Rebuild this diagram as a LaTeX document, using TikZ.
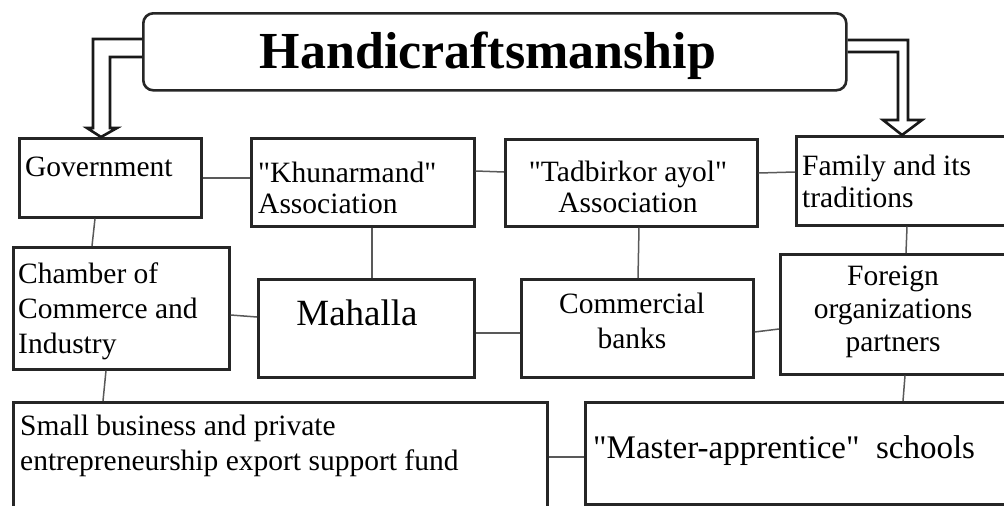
\documentclass[tikz,border=0pt]{standalone}
\usepackage{fontspec}
\setmainfont{Liberation Serif}[Ligatures=TeXOff]
\newcommand{\stackL}[1]{\begin{tabular}[t]{@{}l@{}}#1\end{tabular}}
\newcommand{\stackC}[1]{\begin{tabular}[t]{@{}c@{}}#1\end{tabular}}
\begin{document}
\begin{tikzpicture}[x=1pt,y=-1pt,
  box/.style={draw=black!85, line width=2.6pt, rectangle, inner sep=0pt, anchor=north west},
  link/.style={draw=black!65, line width=1.5pt},
  hollow/.style={draw=black!90, line width=2.6pt, line join=miter},
  txt/.style={inner sep=0pt, font=\fontsize{29.5}{33}\selectfont}]
\useasboundingbox (0,0) rectangle (1004,506);
\fill[white] (0,0) rectangle (1004,506);
\clip (0,0) rectangle (1004,506);

% boxes
\node[box, rounded corners=10pt, minimum width=703pt, minimum height=77pt] (title) at (142,12) {};
\node[box, minimum width=182pt, minimum height=79pt] (gov) at (18,137) {};
\node[box, minimum width=223pt, minimum height=88pt] (khu) at (250,137) {};
\node[box, minimum width=252pt, minimum height=87pt] (tad) at (504,138) {};
\node[box, minimum width=240pt, minimum height=89pt] (fam) at (795,135) {};
\node[box, minimum width=216pt, minimum height=122pt] (cham) at (12,246) {};
\node[box, minimum width=216pt, minimum height=98pt] (mah) at (257,278) {};
\node[box, minimum width=232pt, minimum height=98pt] (bank) at (520,278) {};
\node[box, minimum width=255pt, minimum height=120pt] (for) at (779,253) {};
\node[box, minimum width=534pt, minimum height=130pt] (small) at (12,401) {};
\node[box, minimum width=450pt, minimum height=102pt] (master) at (584,401) {};

% texts
\node[inner sep=0pt, anchor=base, font=\fontsize{52}{60}\selectfont\bfseries] (titlet) at (488,68) {Handicraftsmanship};
\node[txt, anchor=base west] (govt) at (25,176) {Government};
\node[txt, anchor=base west] (khut) at (258,182) {\fontsize{29.5}{31}\selectfont\stackL{"Khunarmand"\\Association}};
\node[txt, anchor=base] (tadt) at (628,181) {\fontsize{29.5}{31}\selectfont\stackC{"Tadbirkor ayol"\\Association}};
\node[txt, anchor=base west] (famt) at (802,175) {\fontsize{29.5}{32}\selectfont\stackL{Family and its\\traditions}};
\node[txt, anchor=base west] (chamt) at (18,283) {\fontsize{29.5}{35}\selectfont\stackL{Chamber of\\Commerce and\\Industry}};
\node[inner sep=0pt, anchor=base, font=\fontsize{37}{40}\selectfont] (maht) at (357,325) {Mahalla};
\node[txt, anchor=base] (bankt) at (632,313) {\fontsize{29.5}{35}\selectfont\stackC{Commercial\\banks}};
\node[txt, anchor=base] (fort) at (893,285) {\fontsize{29.5}{33}\selectfont\stackC{Foreign\\organizations\\partners}};
\node[txt, anchor=base west] (smallt) at (20,435) {\fontsize{29.5}{35}\selectfont\stackL{Small business and private\\entrepreneurship export support fund}};
\node[inner sep=0pt, anchor=base west, font=\fontsize{33}{38}\selectfont] (mastert) at (593,458) {"Master-apprentice"\ \ schools};

% hollow arrows
\draw[hollow] (title.west |- 0,39) -- (93,39) -- (93,128) -- (87,128) -- (gov.north -| 101,0) -- (117,128) -- (110,128) -- (110,57) -- (title.west |- 0,57);
\draw[hollow] (title.east |- 0,40) -- (908,40) -- (908,120) -- (922,120) -- (fam.north -| 902,0) -- (883,120) -- (898,120) -- (898,52) -- (title.east |- 0,52);

% connectors
\draw[link] (gov.east |- 0,178) -- (khu.west |- 0,178);
\draw[link] (khu.east |- 0,171) -- (tad.west |- 0,172);
\draw[link] (tad.east |- 0,173) -- (fam.west |- 0,172);
\draw[link] (gov.south -| 95,0) -- (cham.north -| 92,0);
\draw[link] (khu.south -| 372,0) -- (mah.north -| 372,0);
\draw[link] (tad.south -| 639,0) -- (bank.north -| 638,0);
\draw[link] (fam.south -| 907,0) -- (for.north -| 906,0);
\draw[link] (cham.east |- 0,315) -- (mah.west |- 0,317);
\draw[link] (mah.east |- 0,333) -- (bank.west |- 0,333);
\draw[link] (bank.east |- 0,332) -- (for.west |- 0,329);
\draw[link] (cham.south -| 106,0) -- (small.north -| 103,0);
\draw[link] (for.south -| 905,0) -- (master.north -| 903,0);
\draw[link] (small.east |- 0,457) -- (master.west |- 0,457);
\end{tikzpicture}
\end{document}
